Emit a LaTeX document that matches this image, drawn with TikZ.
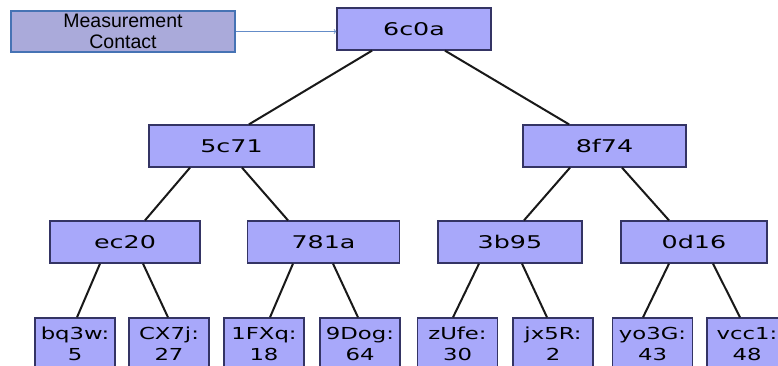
\documentclass[tikz,border=0pt]{standalone}
\usepackage{graphicx}
\usepackage{fontspec}
\usepackage{tikz}
\usetikzlibrary{arrows,positioning}
\newfontfamily\treefont{DejaVu Sans}
\newfontfamily\labelfont{Liberation Sans}
\definecolor{nodefill}{RGB}{168,168,250}
\definecolor{nodeline}{RGB}{52,52,100}
\definecolor{measfill}{RGB}{170,170,218}
\definecolor{measline}{RGB}{70,115,180}
\definecolor{pointer}{RGB}{100,140,200}
\newcommand{\wide}[1]{\scalebox{1.45}[1]{#1}}
\newcommand{\leaf}[2]{\scalebox{1.38}[1]{\begin{tabular}{@{}c@{}}#1\\[-1pt]#2\end{tabular}}}
\tikzstyle{hashbox} = [draw=nodeline, fill=nodefill, line width=1.3pt,
    rectangle, inner sep=0pt, minimum height=42pt,
    font=\treefont\fontsize{17.5}{20}\selectfont]
\tikzstyle{leafbox} = [hashbox, minimum width=80pt, minimum height=56pt,
    font=\treefont\fontsize{16.5}{22}\selectfont]
\tikzstyle{measbox} = [draw=measline, fill=measfill, line width=1.6pt,
    rectangle, inner sep=0pt, minimum width=224pt, minimum height=41pt,
    align=center, font=\labelfont\fontsize{19.5}{21.5}\selectfont]
\tikzstyle{edge} = [draw=black!90, line width=2pt]
\newcommand{\link}[4]{\path[edge] ([xshift=#2]#1.south) -- ([xshift=#4]#3.north);}

\begin{document}
\begin{tikzpicture}[x=1pt,y=-1pt]
\clip (0,0) rectangle (778,366);
\fill[white] (0,0) rectangle (778,366);
% pointer into the tree
\node[measbox] (meas) at (123,31.5) {Measurement\\Contact};
\node[hashbox, minimum width=154pt] (root) at (414,29) {\wide{6c0a}};
% second row
\node[hashbox, minimum width=165pt] (h5c71) at (231.5,146) {\wide{5c71}};
\node[hashbox, minimum width=163pt] (h8f74) at (604.5,146) {\wide{8f74}};
% third row
\node[hashbox, minimum width=150pt] (hec20) at (125,242) {\wide{ec20}};
\node[hashbox, minimum width=152pt] (h781a) at (323.5,242) {\wide{781a}};
\node[hashbox, minimum width=144pt] (h3b95) at (510,242) {\wide{3b95}};
\node[hashbox, minimum width=146pt] (h0d16) at (694,242) {\wide{0d16}};
% leaves
\node[leafbox] (bq3w) at (75,346) {\leaf{bq3w:}{5}};
\node[leafbox] (CX7j) at (169,346) {\leaf{CX7j:}{27}};
\node[leafbox] (FXq) at (264,346) {\leaf{1FXq:}{18}};
\node[leafbox] (Dog) at (360,346) {\leaf{9Dog:}{64}};
\node[leafbox] (zUfe) at (457.5,346) {\leaf{zUfe:}{30}};
\node[leafbox] (jx5R) at (553,346) {\leaf{jx5R:}{2}};
\node[leafbox] (yo3G) at (652.5,346) {\leaf{yo3G:}{43}};
\node[leafbox] (vcc1) at (747,346) {\leaf{vcc1:}{48}};
% connectors
\draw[pointer, line width=0.8pt, ->, >=to] (meas.east) -- (meas.east -| root.west);
\link{root}{-42}{h5c71}{17.5}
\link{root}{31}{h8f74}{-35.5}
\link{h5c71}{-41.5}{hec20}{20}
\link{h5c71}{10.5}{h781a}{-35.5}
\link{h8f74}{-34.5}{h3b95}{14}
\link{h8f74}{17.5}{h0d16}{-25}
\link{hec20}{-25}{bq3w}{2}
\link{hec20}{18}{CX7j}{-1}
\link{h781a}{-30.5}{FXq}{6}
\link{h781a}{9.5}{Dog}{-2}
\link{h3b95}{-31}{zUfe}{-4.5}
\link{h3b95}{12}{jx5R}{-6}
\link{h0d16}{-25}{yo3G}{-9.5}
\link{h0d16}{19}{vcc1}{-7}
\end{tikzpicture}
\end{document}
